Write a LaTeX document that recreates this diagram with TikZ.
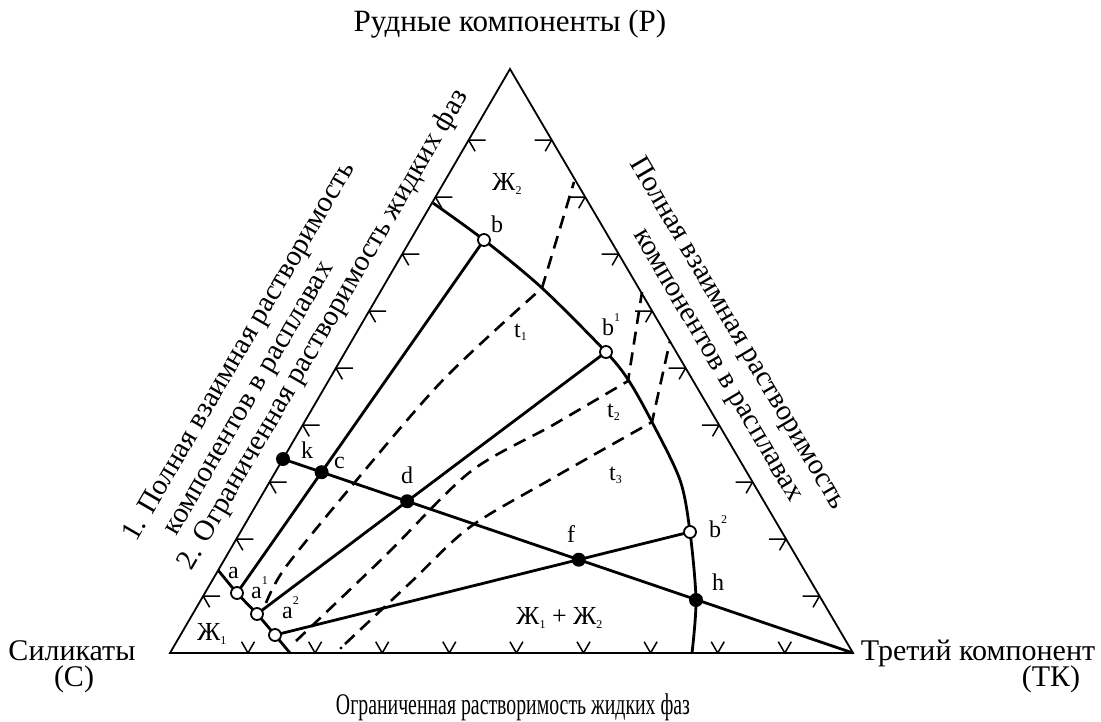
\documentclass[tikz,border=0pt]{standalone}
\usepackage{fontspec}
\setmainfont{Liberation Serif}
\newcommand\subx[1]{\raisebox{-0.35ex}{\fontsize{12}{12}\selectfont #1}}
\newcommand\supx[1]{\raisebox{1.25ex}{\fontsize{12}{12}\selectfont #1}}
\begin{document}
\begin{tikzpicture}[x=1pt,y=-1pt,
  side/.style={line width=1.8pt},
  tie/.style={line width=2.8pt},
  tickm/.style={line width=1.5pt},
  iso/.style={line width=2.6pt, dash pattern=on 13pt off 8pt},
  opn/.style={circle, draw, fill=white, line width=1.8pt, minimum size=12pt, inner sep=0pt},
  fil/.style={circle, fill=black, minimum size=14pt, inner sep=0pt},
  lbl/.style={font=\fontsize{24}{24}\selectfont, inner sep=0pt, anchor=base west},
  zh/.style={font=\fontsize{26}{26}\selectfont, inner sep=0pt, anchor=base west},
  big/.style={font=\fontsize{30}{33}\selectfont, inner sep=0pt},
  rot/.style={font=\fontsize{29}{33}\selectfont, inner sep=0pt}]
\useasboundingbox (0,0) rectangle (1101,721);
% vertices
\coordinate (C) at (170,653);
\coordinate (T) at (853,653);
\coordinate (P) at (510,69);
% binodal points
\coordinate (a) at (237,593);
\coordinate (a1) at (257,614);
\coordinate (a2) at (275,635);
\coordinate (b) at (484,240);
\coordinate (b1) at (606,352);
\coordinate (b2) at (690,532);
\coordinate (k) at (283,459);
\coordinate (h) at (696,600);
\coordinate (c) at (intersection of a--b and k--T);
\coordinate (d) at (intersection of a1--b1 and k--T);
\coordinate (f) at (intersection of a2--b2 and k--T);
% ticks
\foreach \k in {1,...,9}{
  \draw[tickm] ({170+33.18*\k},{653-57*\k}) -- ++(17,0)
               ({170+33.18*\k},{653-57*\k}) -- ++(6.5,11.3);
  \draw[tickm] ({853-33.48*\k},{653-57*\k}) -- ++(-17,0)
               ({853-33.48*\k},{653-57*\k}) -- ++(-6.5,11.3);
}
\foreach \k in {0,...,8}{
  \draw[tickm] ({248+67.1*\k},653) -- ++(-6.5,-11.3)
               ({248+67.1*\k},653) -- ++(6.5,-11.3);
}
% triangle
\draw[side, line join=miter] (C) -- (T) -- (P) -- cycle;
% isotherms
\draw[iso] plot[smooth] coordinates {(266,603) (285,568) (350,488) (443,380) (542,288)} -- (574,182);
\draw[iso] plot[smooth] coordinates {(296,641) (385,556) (470,472) (553,425) (628,381)} -- (642,292);
\draw[iso] plot[smooth] coordinates {(345,644) (410,583) (470,527) (553,478) (652,422)} -- (670,341);
\fill (341,648) circle (1.6);
% binodal
\draw[tie] plot[smooth] coordinates {(218,570) (a) (a1) (a2) (290,653)};
\draw[tie] plot[smooth] coordinates {(433,203) (b) (542,288) (b1) (629,381) (652,422) (680,480) (b2) (h) (692,653)};
% tie lines
\draw[tie] (a) -- (b);
\draw[tie] (a1) -- (b1);
\draw[tie] (a2) -- (b2);
\draw[tie] (k) -- (T);
% markers
\foreach \p in {a,a1,a2,b,b1,b2}{\node[opn] (m\p) at (\p) {};}
\foreach \p in {k,c,d,f,h}{\node[fil] (m\p) at (\p) {};}
% labels
\node[zh] (lzh2) at (492,190) {Ж\subx{2}};
\node[lbl] (lb) at (491,232) {b};
\node[lbl] (lb1) at (602,335) {b\supx{1}};
\node[lbl] (lt1) at (514,337) {t\subx{1}};
\node[lbl] (lt2) at (607,417) {t\subx{2}};
\node[lbl] (lt3) at (609,480) {t\subx{3}};
\node[lbl] (lk) at (301,458) {k};
\node[lbl] (lc) at (334,468) {c};
\node[lbl] (ld) at (401,483) {d};
\node[lbl] (lf) at (567,542) {f};
\node[lbl] (lb2) at (709,537) {b\supx{2}};
\node[lbl] (lh) at (712,590) {h};
\node[lbl] (la) at (228,578) {a};
\node[lbl] (la1) at (251,598) {a\supx{1}};
\node[lbl] (la2) at (282,618) {a\supx{2}};
\node[zh] (lzh12) at (516,624) {Ж\subx{1} + Ж\subx{2}};
\node[zh] (lzh1) at (197,640) {Ж\subx{1}};
% main texts
\node[big, anchor=base, font=\fontsize{31}{33}\selectfont] (top) at (510,31) {Рудные компоненты (Р)};
\node[big, anchor=base] (sil) at (72,660) {Силикаты};
\node[big, anchor=base] (silc) at (74,686) {(С)};
\node[big, anchor=base] (tk) at (978,660) {Третий компонент};
\node[big, anchor=base] (tkc) at (1051,686) {(ТК)};
\node[big, anchor=base] (bot) at (513,714) {\scalebox{0.66}[1]{Ограниченная растворимость жидких фаз}};
\node[rot, rotate=59.8] (l1) at (240,352) {1. Полная взаимная растворимость};
\node[rot, rotate=59.8] (l2) at (252,400) {компонентов в расплавах};
\node[rot, rotate=59.8] (l3) at (324,330) {2. Ограниченная растворимость жидких фаз};
\node[rot, rotate=-59.6] (r1) at (737,334) {Полная взаимная растворимость};
\node[rot, rotate=-59.6] (r2) at (715,367) {компонентов в расплавах};
\end{tikzpicture}
\end{document}
